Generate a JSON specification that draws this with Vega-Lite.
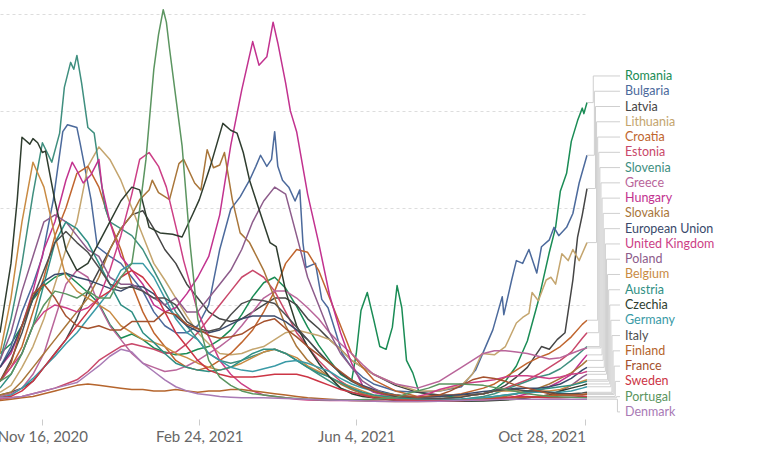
{
  "$schema": "https://vega.github.io/schema/vega-lite/v6.json",
  "width": 587,
  "height": 402,
  "autosize": {"type": "none"},
  "padding": {"left": 0, "top": 0, "right": 180, "bottom": 48},
  "background": "white",
  "config": {"view": {"stroke": null}, "font": "Lato", "text": {"font": "Lato"}},
  "datasets": {
    "names": [
      {"c": "RO", "name": "Romania", "rank": 0},
      {"c": "BG", "name": "Bulgaria", "rank": 1},
      {"c": "LV", "name": "Latvia", "rank": 2},
      {"c": "LT", "name": "Lithuania", "rank": 3},
      {"c": "HR", "name": "Croatia", "rank": 4},
      {"c": "EE", "name": "Estonia", "rank": 5},
      {"c": "SI", "name": "Slovenia", "rank": 6},
      {"c": "GR", "name": "Greece", "rank": 7},
      {"c": "HU", "name": "Hungary", "rank": 8},
      {"c": "SK", "name": "Slovakia", "rank": 9},
      {"c": "EU", "name": "European Union", "rank": 10},
      {"c": "GB", "name": "United Kingdom", "rank": 11},
      {"c": "PL", "name": "Poland", "rank": 12},
      {"c": "BE", "name": "Belgium", "rank": 13},
      {"c": "AT", "name": "Austria", "rank": 14},
      {"c": "CZ", "name": "Czechia", "rank": 15},
      {"c": "DE", "name": "Germany", "rank": 16},
      {"c": "IT", "name": "Italy", "rank": 17},
      {"c": "FI", "name": "Finland", "rank": 18},
      {"c": "FR", "name": "France", "rank": 19},
      {"c": "SE", "name": "Sweden", "rank": 20},
      {"c": "PT", "name": "Portugal", "rank": 21},
      {"c": "DK", "name": "Denmark", "rank": 22}
    ],
    "series": [
      {"c":"RO","t":"2020-10-20","v":3.5},{"c":"RO","t":"2020-10-27","v":4.2},{"c":"RO","t":"2020-11-03","v":5.5},{"c":"RO","t":"2020-11-10","v":7.4},{"c":"RO","t":"2020-11-17","v":8.4},{"c":"RO","t":"2020-11-24","v":9.0},{"c":"RO","t":"2020-12-01","v":9.3},{"c":"RO","t":"2020-12-08","v":8.6},{"c":"RO","t":"2020-12-15","v":7.9},{"c":"RO","t":"2020-12-22","v":7.1},{"c":"RO","t":"2020-12-29","v":5.6},{"c":"RO","t":"2021-01-05","v":4.6},{"c":"RO","t":"2021-01-12","v":4.9},{"c":"RO","t":"2021-01-19","v":4.5},{"c":"RO","t":"2021-01-26","v":3.9},{"c":"RO","t":"2021-02-02","v":3.6},{"c":"RO","t":"2021-02-09","v":3.4},{"c":"RO","t":"2021-02-16","v":3.5},{"c":"RO","t":"2021-02-23","v":3.8},{"c":"RO","t":"2021-03-02","v":4.0},{"c":"RO","t":"2021-03-09","v":4.5},{"c":"RO","t":"2021-03-16","v":5.2},{"c":"RO","t":"2021-03-23","v":6.3},{"c":"RO","t":"2021-03-30","v":7.6},{"c":"RO","t":"2021-04-06","v":8.6},{"c":"RO","t":"2021-04-13","v":9.0},{"c":"RO","t":"2021-04-20","v":8.2},{"c":"RO","t":"2021-04-27","v":6.9},{"c":"RO","t":"2021-05-04","v":5.4},{"c":"RO","t":"2021-05-11","v":4.1},{"c":"RO","t":"2021-05-18","v":3.0},{"c":"RO","t":"2021-05-25","v":2.0},{"c":"RO","t":"2021-06-01","v":1.5},{"c":"RO","t":"2021-06-04","v":3.5},{"c":"RO","t":"2021-06-07","v":6.6},{"c":"RO","t":"2021-06-11","v":7.9},{"c":"RO","t":"2021-06-15","v":6.0},{"c":"RO","t":"2021-06-19","v":4.0},{"c":"RO","t":"2021-06-23","v":3.8},{"c":"RO","t":"2021-06-27","v":5.4},{"c":"RO","t":"2021-06-30","v":8.4},{"c":"RO","t":"2021-07-03","v":6.8},{"c":"RO","t":"2021-07-06","v":3.0},{"c":"RO","t":"2021-07-10","v":2.1},{"c":"RO","t":"2021-07-14","v":0.7},{"c":"RO","t":"2021-07-27","v":0.4},{"c":"RO","t":"2021-08-10","v":0.4},{"c":"RO","t":"2021-08-24","v":0.6},{"c":"RO","t":"2021-08-31","v":0.9},{"c":"RO","t":"2021-09-07","v":1.5},{"c":"RO","t":"2021-09-14","v":2.6},{"c":"RO","t":"2021-09-21","v":4.4},{"c":"RO","t":"2021-09-28","v":7.3},{"c":"RO","t":"2021-10-05","v":10.8},{"c":"RO","t":"2021-10-09","v":12.6},{"c":"RO","t":"2021-10-12","v":15.2},{"c":"RO","t":"2021-10-16","v":16.5},{"c":"RO","t":"2021-10-19","v":18.8},{"c":"RO","t":"2021-10-23","v":20.3},{"c":"RO","t":"2021-10-26","v":21.2},{"c":"RO","t":"2021-10-27","v":20.8},{"c":"RO","t":"2021-10-29","v":21.6},
      {"c":"BG","t":"2020-10-20","v":2.5},{"c":"BG","t":"2020-10-27","v":4.0},{"c":"BG","t":"2020-11-03","v":6.5},{"c":"BG","t":"2020-11-10","v":8.5},{"c":"BG","t":"2020-11-16","v":10.5},{"c":"BG","t":"2020-11-23","v":14.6},{"c":"BG","t":"2020-11-29","v":19.5},{"c":"BG","t":"2020-12-02","v":20.0},{"c":"BG","t":"2020-12-08","v":19.8},{"c":"BG","t":"2020-12-10","v":18.7},{"c":"BG","t":"2020-12-17","v":14.6},{"c":"BG","t":"2020-12-21","v":11.2},{"c":"BG","t":"2020-12-29","v":10.5},{"c":"BG","t":"2021-01-05","v":10.0},{"c":"BG","t":"2021-01-12","v":9.0},{"c":"BG","t":"2021-01-19","v":8.0},{"c":"BG","t":"2021-01-26","v":6.5},{"c":"BG","t":"2021-02-02","v":5.5},{"c":"BG","t":"2021-02-09","v":5.0},{"c":"BG","t":"2021-02-16","v":5.0},{"c":"BG","t":"2021-02-23","v":5.5},{"c":"BG","t":"2021-03-02","v":7.0},{"c":"BG","t":"2021-03-09","v":11.0},{"c":"BG","t":"2021-03-16","v":13.9},{"c":"BG","t":"2021-03-22","v":14.8},{"c":"BG","t":"2021-03-28","v":16.0},{"c":"BG","t":"2021-04-01","v":17.0},{"c":"BG","t":"2021-04-04","v":17.8},{"c":"BG","t":"2021-04-08","v":17.0},{"c":"BG","t":"2021-04-11","v":17.5},{"c":"BG","t":"2021-04-13","v":19.5},{"c":"BG","t":"2021-04-15","v":17.0},{"c":"BG","t":"2021-04-18","v":16.0},{"c":"BG","t":"2021-04-22","v":15.5},{"c":"BG","t":"2021-04-26","v":14.5},{"c":"BG","t":"2021-04-29","v":15.3},{"c":"BG","t":"2021-05-01","v":11.5},{"c":"BG","t":"2021-05-03","v":9.7},{"c":"BG","t":"2021-05-09","v":10.0},{"c":"BG","t":"2021-05-13","v":7.4},{"c":"BG","t":"2021-05-17","v":6.8},{"c":"BG","t":"2021-05-22","v":5.0},{"c":"BG","t":"2021-05-26","v":3.5},{"c":"BG","t":"2021-06-01","v":2.5},{"c":"BG","t":"2021-06-08","v":1.8},{"c":"BG","t":"2021-06-15","v":1.3},{"c":"BG","t":"2021-06-29","v":0.8},{"c":"BG","t":"2021-07-13","v":0.7},{"c":"BG","t":"2021-07-27","v":0.8},{"c":"BG","t":"2021-08-10","v":1.1},{"c":"BG","t":"2021-08-19","v":2.3},{"c":"BG","t":"2021-08-30","v":5.2},{"c":"BG","t":"2021-09-05","v":7.6},{"c":"BG","t":"2021-09-06","v":6.3},{"c":"BG","t":"2021-09-11","v":8.8},{"c":"BG","t":"2021-09-14","v":10.2},{"c":"BG","t":"2021-09-18","v":10.0},{"c":"BG","t":"2021-09-22","v":11.0},{"c":"BG","t":"2021-09-27","v":9.3},{"c":"BG","t":"2021-09-30","v":11.2},{"c":"BG","t":"2021-10-05","v":11.7},{"c":"BG","t":"2021-10-08","v":12.6},{"c":"BG","t":"2021-10-11","v":12.0},{"c":"BG","t":"2021-10-16","v":12.6},{"c":"BG","t":"2021-10-20","v":13.6},{"c":"BG","t":"2021-10-24","v":15.8},{"c":"BG","t":"2021-10-29","v":17.8},
      {"c":"LV","t":"2020-10-20","v":0.5},{"c":"LV","t":"2020-10-27","v":0.7},{"c":"LV","t":"2020-11-03","v":1.0},{"c":"LV","t":"2020-11-10","v":1.5},{"c":"LV","t":"2020-11-17","v":2.5},{"c":"LV","t":"2020-11-24","v":3.5},{"c":"LV","t":"2020-12-01","v":4.5},{"c":"LV","t":"2020-12-08","v":6.0},{"c":"LV","t":"2020-12-15","v":8.0},{"c":"LV","t":"2020-12-22","v":9.5},{"c":"LV","t":"2020-12-29","v":11.0},{"c":"LV","t":"2021-01-05","v":12.5},{"c":"LV","t":"2021-01-12","v":13.5},{"c":"LV","t":"2021-01-19","v":13.8},{"c":"LV","t":"2021-01-26","v":12.5},{"c":"LV","t":"2021-02-02","v":11.0},{"c":"LV","t":"2021-02-09","v":10.0},{"c":"LV","t":"2021-02-16","v":8.5},{"c":"LV","t":"2021-02-23","v":7.5},{"c":"LV","t":"2021-03-02","v":6.5},{"c":"LV","t":"2021-03-09","v":6.0},{"c":"LV","t":"2021-03-16","v":5.8},{"c":"LV","t":"2021-03-23","v":6.0},{"c":"LV","t":"2021-03-30","v":6.5},{"c":"LV","t":"2021-04-06","v":7.0},{"c":"LV","t":"2021-04-13","v":7.5},{"c":"LV","t":"2021-04-20","v":7.5},{"c":"LV","t":"2021-04-27","v":7.0},{"c":"LV","t":"2021-05-04","v":6.0},{"c":"LV","t":"2021-05-11","v":5.3},{"c":"LV","t":"2021-05-18","v":4.5},{"c":"LV","t":"2021-05-25","v":3.8},{"c":"LV","t":"2021-06-01","v":3.0},{"c":"LV","t":"2021-06-08","v":2.5},{"c":"LV","t":"2021-06-15","v":2.0},{"c":"LV","t":"2021-06-29","v":1.2},{"c":"LV","t":"2021-07-13","v":0.7},{"c":"LV","t":"2021-07-27","v":0.5},{"c":"LV","t":"2021-08-10","v":0.5},{"c":"LV","t":"2021-08-24","v":0.6},{"c":"LV","t":"2021-08-31","v":0.8},{"c":"LV","t":"2021-09-07","v":1.2},{"c":"LV","t":"2021-09-14","v":1.8},{"c":"LV","t":"2021-09-21","v":2.5},{"c":"LV","t":"2021-09-30","v":4.0},{"c":"LV","t":"2021-10-05","v":3.8},{"c":"LV","t":"2021-10-10","v":4.5},{"c":"LV","t":"2021-10-15","v":5.0},{"c":"LV","t":"2021-10-20","v":8.8},{"c":"LV","t":"2021-10-23","v":11.9},{"c":"LV","t":"2021-10-26","v":13.5},{"c":"LV","t":"2021-10-29","v":15.4},
      {"c":"LT","t":"2020-10-20","v":0.7},{"c":"LT","t":"2020-10-27","v":1.2},{"c":"LT","t":"2020-11-03","v":2.5},{"c":"LT","t":"2020-11-10","v":4.0},{"c":"LT","t":"2020-11-17","v":6.0},{"c":"LT","t":"2020-11-24","v":8.5},{"c":"LT","t":"2020-12-01","v":11.0},{"c":"LT","t":"2020-12-08","v":13.0},{"c":"LT","t":"2020-12-15","v":17.0},{"c":"LT","t":"2020-12-22","v":18.4},{"c":"LT","t":"2020-12-29","v":17.5},{"c":"LT","t":"2021-01-05","v":16.0},{"c":"LT","t":"2021-01-12","v":14.0},{"c":"LT","t":"2021-01-19","v":12.0},{"c":"LT","t":"2021-01-26","v":10.0},{"c":"LT","t":"2021-02-02","v":8.8},{"c":"LT","t":"2021-02-09","v":7.5},{"c":"LT","t":"2021-02-16","v":6.2},{"c":"LT","t":"2021-02-23","v":5.0},{"c":"LT","t":"2021-03-02","v":4.2},{"c":"LT","t":"2021-03-09","v":3.5},{"c":"LT","t":"2021-03-16","v":3.4},{"c":"LT","t":"2021-03-23","v":3.5},{"c":"LT","t":"2021-03-30","v":3.8},{"c":"LT","t":"2021-04-06","v":4.0},{"c":"LT","t":"2021-04-13","v":4.5},{"c":"LT","t":"2021-04-20","v":5.0},{"c":"LT","t":"2021-04-27","v":5.2},{"c":"LT","t":"2021-05-04","v":5.0},{"c":"LT","t":"2021-05-11","v":4.8},{"c":"LT","t":"2021-05-18","v":4.5},{"c":"LT","t":"2021-05-25","v":3.8},{"c":"LT","t":"2021-06-01","v":3.0},{"c":"LT","t":"2021-06-08","v":2.5},{"c":"LT","t":"2021-06-15","v":2.0},{"c":"LT","t":"2021-06-29","v":1.3},{"c":"LT","t":"2021-07-13","v":0.8},{"c":"LT","t":"2021-07-27","v":0.8},{"c":"LT","t":"2021-08-10","v":1.2},{"c":"LT","t":"2021-08-17","v":2.0},{"c":"LT","t":"2021-08-23","v":3.5},{"c":"LT","t":"2021-08-31","v":3.4},{"c":"LT","t":"2021-09-07","v":4.0},{"c":"LT","t":"2021-09-14","v":5.7},{"c":"LT","t":"2021-09-18","v":6.1},{"c":"LT","t":"2021-09-22","v":6.4},{"c":"LT","t":"2021-09-24","v":7.9},{"c":"LT","t":"2021-09-28","v":7.3},{"c":"LT","t":"2021-10-03","v":8.8},{"c":"LT","t":"2021-10-06","v":9.0},{"c":"LT","t":"2021-10-09","v":8.5},{"c":"LT","t":"2021-10-13","v":10.7},{"c":"LT","t":"2021-10-17","v":10.2},{"c":"LT","t":"2021-10-20","v":11.0},{"c":"LT","t":"2021-10-24","v":10.2},{"c":"LT","t":"2021-10-29","v":11.5},
      {"c":"HR","t":"2020-10-20","v":1.5},{"c":"HR","t":"2020-10-27","v":2.5},{"c":"HR","t":"2020-11-03","v":4.0},{"c":"HR","t":"2020-11-10","v":6.5},{"c":"HR","t":"2020-11-17","v":9.0},{"c":"HR","t":"2020-11-24","v":12.0},{"c":"HR","t":"2020-12-01","v":14.0},{"c":"HR","t":"2020-12-08","v":16.5},{"c":"HR","t":"2020-12-15","v":17.0},{"c":"HR","t":"2020-12-22","v":15.5},{"c":"HR","t":"2020-12-29","v":13.0},{"c":"HR","t":"2021-01-05","v":11.0},{"c":"HR","t":"2021-01-12","v":8.5},{"c":"HR","t":"2021-01-19","v":6.5},{"c":"HR","t":"2021-01-26","v":5.0},{"c":"HR","t":"2021-02-02","v":4.0},{"c":"HR","t":"2021-02-09","v":3.0},{"c":"HR","t":"2021-02-16","v":2.5},{"c":"HR","t":"2021-02-23","v":2.3},{"c":"HR","t":"2021-03-02","v":2.5},{"c":"HR","t":"2021-03-09","v":3.0},{"c":"HR","t":"2021-03-16","v":3.5},{"c":"HR","t":"2021-03-23","v":4.3},{"c":"HR","t":"2021-03-30","v":5.2},{"c":"HR","t":"2021-04-06","v":6.5},{"c":"HR","t":"2021-04-13","v":8.0},{"c":"HR","t":"2021-04-20","v":10.0},{"c":"HR","t":"2021-04-27","v":11.0},{"c":"HR","t":"2021-05-04","v":10.8},{"c":"HR","t":"2021-05-11","v":9.5},{"c":"HR","t":"2021-05-18","v":7.5},{"c":"HR","t":"2021-05-25","v":5.5},{"c":"HR","t":"2021-06-01","v":3.5},{"c":"HR","t":"2021-06-08","v":2.5},{"c":"HR","t":"2021-06-15","v":1.6},{"c":"HR","t":"2021-06-29","v":0.8},{"c":"HR","t":"2021-07-13","v":0.4},{"c":"HR","t":"2021-07-27","v":0.4},{"c":"HR","t":"2021-08-10","v":0.6},{"c":"HR","t":"2021-08-24","v":1.0},{"c":"HR","t":"2021-08-31","v":1.3},{"c":"HR","t":"2021-09-07","v":1.8},{"c":"HR","t":"2021-09-14","v":2.3},{"c":"HR","t":"2021-09-21","v":2.8},{"c":"HR","t":"2021-09-28","v":3.2},{"c":"HR","t":"2021-10-05","v":3.5},{"c":"HR","t":"2021-10-12","v":4.0},{"c":"HR","t":"2021-10-19","v":4.7},{"c":"HR","t":"2021-10-26","v":5.6},{"c":"HR","t":"2021-10-29","v":5.9},
      {"c":"EE","t":"2020-10-20","v":0.2},{"c":"EE","t":"2020-10-27","v":0.3},{"c":"EE","t":"2020-11-03","v":0.4},{"c":"EE","t":"2020-11-10","v":0.6},{"c":"EE","t":"2020-11-17","v":0.8},{"c":"EE","t":"2020-11-24","v":1.0},{"c":"EE","t":"2020-12-01","v":1.3},{"c":"EE","t":"2020-12-08","v":1.6},{"c":"EE","t":"2020-12-15","v":2.2},{"c":"EE","t":"2020-12-22","v":3.0},{"c":"EE","t":"2020-12-29","v":3.5},{"c":"EE","t":"2021-01-05","v":4.0},{"c":"EE","t":"2021-01-12","v":4.2},{"c":"EE","t":"2021-01-19","v":4.0},{"c":"EE","t":"2021-01-26","v":3.8},{"c":"EE","t":"2021-02-02","v":3.5},{"c":"EE","t":"2021-02-09","v":3.6},{"c":"EE","t":"2021-02-16","v":4.2},{"c":"EE","t":"2021-02-23","v":5.0},{"c":"EE","t":"2021-03-02","v":6.0},{"c":"EE","t":"2021-03-09","v":7.0},{"c":"EE","t":"2021-03-16","v":8.0},{"c":"EE","t":"2021-03-23","v":9.0},{"c":"EE","t":"2021-03-30","v":9.5},{"c":"EE","t":"2021-04-06","v":9.0},{"c":"EE","t":"2021-04-13","v":8.0},{"c":"EE","t":"2021-04-20","v":6.5},{"c":"EE","t":"2021-04-27","v":5.0},{"c":"EE","t":"2021-05-04","v":4.0},{"c":"EE","t":"2021-05-11","v":3.0},{"c":"EE","t":"2021-05-18","v":2.2},{"c":"EE","t":"2021-05-25","v":1.5},{"c":"EE","t":"2021-06-01","v":1.0},{"c":"EE","t":"2021-06-08","v":0.6},{"c":"EE","t":"2021-06-15","v":0.4},{"c":"EE","t":"2021-06-29","v":0.2},{"c":"EE","t":"2021-07-13","v":0.1},{"c":"EE","t":"2021-07-27","v":0.2},{"c":"EE","t":"2021-08-10","v":0.4},{"c":"EE","t":"2021-08-24","v":0.6},{"c":"EE","t":"2021-08-31","v":0.8},{"c":"EE","t":"2021-09-07","v":1.0},{"c":"EE","t":"2021-09-14","v":1.3},{"c":"EE","t":"2021-09-21","v":1.6},{"c":"EE","t":"2021-09-28","v":2.0},{"c":"EE","t":"2021-10-05","v":2.5},{"c":"EE","t":"2021-10-12","v":3.0},{"c":"EE","t":"2021-10-19","v":3.6},{"c":"EE","t":"2021-10-26","v":4.6},{"c":"EE","t":"2021-10-29","v":5.0},
      {"c":"SI","t":"2020-10-20","v":3.0},{"c":"SI","t":"2020-10-27","v":6.0},{"c":"SI","t":"2020-11-03","v":10.0},{"c":"SI","t":"2020-11-10","v":15.0},{"c":"SI","t":"2020-11-16","v":18.7},{"c":"SI","t":"2020-11-22","v":17.3},{"c":"SI","t":"2020-11-27","v":19.4},{"c":"SI","t":"2020-11-30","v":22.7},{"c":"SI","t":"2020-12-04","v":24.5},{"c":"SI","t":"2020-12-06","v":24.0},{"c":"SI","t":"2020-12-08","v":25.0},{"c":"SI","t":"2020-12-11","v":23.0},{"c":"SI","t":"2020-12-15","v":19.8},{"c":"SI","t":"2020-12-19","v":19.4},{"c":"SI","t":"2020-12-22","v":17.0},{"c":"SI","t":"2020-12-26","v":14.0},{"c":"SI","t":"2020-12-29","v":13.0},{"c":"SI","t":"2021-01-05","v":12.5},{"c":"SI","t":"2021-01-12","v":12.0},{"c":"SI","t":"2021-01-19","v":11.0},{"c":"SI","t":"2021-01-26","v":9.5},{"c":"SI","t":"2021-02-02","v":8.0},{"c":"SI","t":"2021-02-09","v":6.5},{"c":"SI","t":"2021-02-16","v":5.5},{"c":"SI","t":"2021-02-23","v":4.5},{"c":"SI","t":"2021-03-02","v":3.5},{"c":"SI","t":"2021-03-09","v":3.0},{"c":"SI","t":"2021-03-16","v":2.8},{"c":"SI","t":"2021-03-23","v":3.0},{"c":"SI","t":"2021-03-30","v":3.3},{"c":"SI","t":"2021-04-06","v":3.6},{"c":"SI","t":"2021-04-13","v":3.8},{"c":"SI","t":"2021-04-20","v":3.5},{"c":"SI","t":"2021-04-27","v":3.0},{"c":"SI","t":"2021-05-04","v":2.5},{"c":"SI","t":"2021-05-11","v":2.0},{"c":"SI","t":"2021-05-18","v":1.5},{"c":"SI","t":"2021-05-25","v":1.0},{"c":"SI","t":"2021-06-01","v":0.7},{"c":"SI","t":"2021-06-08","v":0.5},{"c":"SI","t":"2021-06-15","v":0.3},{"c":"SI","t":"2021-06-29","v":0.2},{"c":"SI","t":"2021-07-13","v":0.1},{"c":"SI","t":"2021-07-27","v":0.1},{"c":"SI","t":"2021-08-10","v":0.2},{"c":"SI","t":"2021-08-24","v":0.4},{"c":"SI","t":"2021-08-31","v":0.6},{"c":"SI","t":"2021-09-07","v":0.9},{"c":"SI","t":"2021-09-14","v":1.2},{"c":"SI","t":"2021-09-21","v":1.5},{"c":"SI","t":"2021-09-28","v":1.8},{"c":"SI","t":"2021-10-05","v":2.0},{"c":"SI","t":"2021-10-12","v":2.4},{"c":"SI","t":"2021-10-19","v":3.0},{"c":"SI","t":"2021-10-26","v":3.7},{"c":"SI","t":"2021-10-29","v":4.0},
      {"c":"GR","t":"2020-10-20","v":0.4},{"c":"GR","t":"2020-10-27","v":0.6},{"c":"GR","t":"2020-11-03","v":1.0},{"c":"GR","t":"2020-11-10","v":2.0},{"c":"GR","t":"2020-11-17","v":3.5},{"c":"GR","t":"2020-11-24","v":6.0},{"c":"GR","t":"2020-12-01","v":8.5},{"c":"GR","t":"2020-12-08","v":9.5},{"c":"GR","t":"2020-12-15","v":9.0},{"c":"GR","t":"2020-12-22","v":7.0},{"c":"GR","t":"2020-12-29","v":5.5},{"c":"GR","t":"2021-01-05","v":4.5},{"c":"GR","t":"2021-01-12","v":3.5},{"c":"GR","t":"2021-01-19","v":2.8},{"c":"GR","t":"2021-01-26","v":2.5},{"c":"GR","t":"2021-02-02","v":2.2},{"c":"GR","t":"2021-02-09","v":2.3},{"c":"GR","t":"2021-02-16","v":2.6},{"c":"GR","t":"2021-02-23","v":3.0},{"c":"GR","t":"2021-03-02","v":3.5},{"c":"GR","t":"2021-03-09","v":4.0},{"c":"GR","t":"2021-03-16","v":4.6},{"c":"GR","t":"2021-03-23","v":5.5},{"c":"GR","t":"2021-03-30","v":6.5},{"c":"GR","t":"2021-04-06","v":7.5},{"c":"GR","t":"2021-04-13","v":8.0},{"c":"GR","t":"2021-04-20","v":8.0},{"c":"GR","t":"2021-04-27","v":7.5},{"c":"GR","t":"2021-05-04","v":6.8},{"c":"GR","t":"2021-05-11","v":6.0},{"c":"GR","t":"2021-05-18","v":5.0},{"c":"GR","t":"2021-05-25","v":4.2},{"c":"GR","t":"2021-06-01","v":3.5},{"c":"GR","t":"2021-06-08","v":2.7},{"c":"GR","t":"2021-06-15","v":2.0},{"c":"GR","t":"2021-06-29","v":1.3},{"c":"GR","t":"2021-07-13","v":1.0},{"c":"GR","t":"2021-07-27","v":1.5},{"c":"GR","t":"2021-08-10","v":2.5},{"c":"GR","t":"2021-08-17","v":3.0},{"c":"GR","t":"2021-08-24","v":3.5},{"c":"GR","t":"2021-08-31","v":3.7},{"c":"GR","t":"2021-09-07","v":3.7},{"c":"GR","t":"2021-09-14","v":3.6},{"c":"GR","t":"2021-09-21","v":3.5},{"c":"GR","t":"2021-09-28","v":3.3},{"c":"GR","t":"2021-10-05","v":3.1},{"c":"GR","t":"2021-10-12","v":3.2},{"c":"GR","t":"2021-10-19","v":3.5},{"c":"GR","t":"2021-10-26","v":3.8},{"c":"GR","t":"2021-10-29","v":3.9},
      {"c":"HU","t":"2020-10-20","v":2.5},{"c":"HU","t":"2020-10-27","v":3.5},{"c":"HU","t":"2020-11-03","v":5.5},{"c":"HU","t":"2020-11-10","v":8.0},{"c":"HU","t":"2020-11-17","v":11.0},{"c":"HU","t":"2020-11-24","v":13.0},{"c":"HU","t":"2020-12-01","v":16.0},{"c":"HU","t":"2020-12-05","v":17.3},{"c":"HU","t":"2020-12-08","v":16.7},{"c":"HU","t":"2020-12-12","v":15.8},{"c":"HU","t":"2020-12-17","v":16.4},{"c":"HU","t":"2020-12-22","v":17.5},{"c":"HU","t":"2020-12-24","v":15.5},{"c":"HU","t":"2020-12-29","v":13.0},{"c":"HU","t":"2021-01-05","v":10.5},{"c":"HU","t":"2021-01-12","v":9.5},{"c":"HU","t":"2021-01-19","v":8.5},{"c":"HU","t":"2021-01-26","v":7.0},{"c":"HU","t":"2021-02-02","v":6.5},{"c":"HU","t":"2021-02-09","v":6.8},{"c":"HU","t":"2021-02-16","v":7.8},{"c":"HU","t":"2021-02-23","v":9.0},{"c":"HU","t":"2021-03-02","v":10.5},{"c":"HU","t":"2021-03-09","v":13.5},{"c":"HU","t":"2021-03-16","v":18.5},{"c":"HU","t":"2021-03-23","v":22.5},{"c":"HU","t":"2021-03-27","v":24.5},{"c":"HU","t":"2021-03-30","v":26.0},{"c":"HU","t":"2021-04-03","v":24.3},{"c":"HU","t":"2021-04-08","v":24.9},{"c":"HU","t":"2021-04-12","v":27.4},{"c":"HU","t":"2021-04-15","v":25.9},{"c":"HU","t":"2021-04-20","v":23.0},{"c":"HU","t":"2021-04-23","v":21.0},{"c":"HU","t":"2021-04-27","v":19.5},{"c":"HU","t":"2021-05-04","v":15.0},{"c":"HU","t":"2021-05-11","v":11.5},{"c":"HU","t":"2021-05-18","v":7.7},{"c":"HU","t":"2021-05-25","v":5.0},{"c":"HU","t":"2021-06-01","v":2.8},{"c":"HU","t":"2021-06-08","v":1.2},{"c":"HU","t":"2021-06-15","v":0.7},{"c":"HU","t":"2021-06-29","v":0.3},{"c":"HU","t":"2021-07-13","v":0.2},{"c":"HU","t":"2021-07-27","v":0.1},{"c":"HU","t":"2021-08-10","v":0.1},{"c":"HU","t":"2021-08-24","v":0.2},{"c":"HU","t":"2021-08-31","v":0.3},{"c":"HU","t":"2021-09-07","v":0.3},{"c":"HU","t":"2021-09-14","v":0.4},{"c":"HU","t":"2021-09-21","v":0.6},{"c":"HU","t":"2021-09-28","v":0.8},{"c":"HU","t":"2021-10-05","v":1.1},{"c":"HU","t":"2021-10-12","v":1.5},{"c":"HU","t":"2021-10-19","v":2.0},{"c":"HU","t":"2021-10-26","v":3.0},{"c":"HU","t":"2021-10-29","v":3.4},
      {"c":"SK","t":"2020-10-20","v":0.5},{"c":"SK","t":"2020-10-27","v":0.7},{"c":"SK","t":"2020-11-03","v":1.5},{"c":"SK","t":"2020-11-10","v":2.5},{"c":"SK","t":"2020-11-17","v":3.5},{"c":"SK","t":"2020-11-24","v":4.5},{"c":"SK","t":"2020-12-01","v":5.5},{"c":"SK","t":"2020-12-08","v":6.5},{"c":"SK","t":"2020-12-15","v":7.5},{"c":"SK","t":"2020-12-22","v":9.0},{"c":"SK","t":"2020-12-29","v":11.0},{"c":"SK","t":"2021-01-05","v":12.5},{"c":"SK","t":"2021-01-12","v":13.5},{"c":"SK","t":"2021-01-17","v":14.6},{"c":"SK","t":"2021-01-23","v":15.3},{"c":"SK","t":"2021-01-25","v":16.0},{"c":"SK","t":"2021-01-29","v":15.1},{"c":"SK","t":"2021-02-05","v":14.6},{"c":"SK","t":"2021-02-11","v":17.2},{"c":"SK","t":"2021-02-14","v":17.5},{"c":"SK","t":"2021-02-21","v":15.8},{"c":"SK","t":"2021-02-25","v":15.3},{"c":"SK","t":"2021-03-01","v":18.2},{"c":"SK","t":"2021-03-05","v":16.9},{"c":"SK","t":"2021-03-09","v":17.1},{"c":"SK","t":"2021-03-12","v":18.0},{"c":"SK","t":"2021-03-17","v":14.6},{"c":"SK","t":"2021-03-22","v":12.2},{"c":"SK","t":"2021-03-28","v":11.5},{"c":"SK","t":"2021-04-06","v":9.5},{"c":"SK","t":"2021-04-13","v":7.5},{"c":"SK","t":"2021-04-20","v":5.5},{"c":"SK","t":"2021-04-27","v":4.0},{"c":"SK","t":"2021-05-04","v":3.0},{"c":"SK","t":"2021-05-11","v":2.4},{"c":"SK","t":"2021-05-18","v":1.8},{"c":"SK","t":"2021-05-25","v":1.3},{"c":"SK","t":"2021-06-01","v":0.9},{"c":"SK","t":"2021-06-08","v":0.6},{"c":"SK","t":"2021-06-15","v":0.4},{"c":"SK","t":"2021-06-29","v":0.2},{"c":"SK","t":"2021-07-13","v":0.1},{"c":"SK","t":"2021-07-27","v":0.1},{"c":"SK","t":"2021-08-10","v":0.1},{"c":"SK","t":"2021-08-24","v":0.2},{"c":"SK","t":"2021-08-31","v":0.3},{"c":"SK","t":"2021-09-07","v":0.4},{"c":"SK","t":"2021-09-14","v":0.6},{"c":"SK","t":"2021-09-21","v":0.8},{"c":"SK","t":"2021-09-28","v":1.0},{"c":"SK","t":"2021-10-05","v":1.3},{"c":"SK","t":"2021-10-12","v":1.7},{"c":"SK","t":"2021-10-19","v":2.1},{"c":"SK","t":"2021-10-26","v":2.7},{"c":"SK","t":"2021-10-29","v":3.0},
      {"c":"EU","t":"2020-10-20","v":2.5},{"c":"EU","t":"2020-10-27","v":3.7},{"c":"EU","t":"2020-11-03","v":5.5},{"c":"EU","t":"2020-11-10","v":7.5},{"c":"EU","t":"2020-11-17","v":8.7},{"c":"EU","t":"2020-11-24","v":9.2},{"c":"EU","t":"2020-12-01","v":9.3},{"c":"EU","t":"2020-12-08","v":9.0},{"c":"EU","t":"2020-12-15","v":8.8},{"c":"EU","t":"2020-12-22","v":8.5},{"c":"EU","t":"2020-12-29","v":8.2},{"c":"EU","t":"2021-01-05","v":8.0},{"c":"EU","t":"2021-01-12","v":8.4},{"c":"EU","t":"2021-01-19","v":8.3},{"c":"EU","t":"2021-01-26","v":7.8},{"c":"EU","t":"2021-02-02","v":7.0},{"c":"EU","t":"2021-02-09","v":6.2},{"c":"EU","t":"2021-02-16","v":5.5},{"c":"EU","t":"2021-02-23","v":5.1},{"c":"EU","t":"2021-03-02","v":5.0},{"c":"EU","t":"2021-03-09","v":5.2},{"c":"EU","t":"2021-03-16","v":5.6},{"c":"EU","t":"2021-03-23","v":6.0},{"c":"EU","t":"2021-03-30","v":6.2},{"c":"EU","t":"2021-04-06","v":6.2},{"c":"EU","t":"2021-04-13","v":6.2},{"c":"EU","t":"2021-04-20","v":5.8},{"c":"EU","t":"2021-04-27","v":5.2},{"c":"EU","t":"2021-05-04","v":4.5},{"c":"EU","t":"2021-05-11","v":3.6},{"c":"EU","t":"2021-05-18","v":2.8},{"c":"EU","t":"2021-05-25","v":2.1},{"c":"EU","t":"2021-06-01","v":1.6},{"c":"EU","t":"2021-06-08","v":1.2},{"c":"EU","t":"2021-06-15","v":0.9},{"c":"EU","t":"2021-06-22","v":0.7},{"c":"EU","t":"2021-06-29","v":0.5},{"c":"EU","t":"2021-07-13","v":0.35},{"c":"EU","t":"2021-07-27","v":0.4},{"c":"EU","t":"2021-08-10","v":0.55},{"c":"EU","t":"2021-08-24","v":0.75},{"c":"EU","t":"2021-09-07","v":0.9},{"c":"EU","t":"2021-09-14","v":1.0},{"c":"EU","t":"2021-09-21","v":1.0},{"c":"EU","t":"2021-09-28","v":1.0},{"c":"EU","t":"2021-10-05","v":1.1},{"c":"EU","t":"2021-10-12","v":1.3},{"c":"EU","t":"2021-10-19","v":1.7},{"c":"EU","t":"2021-10-26","v":2.3},{"c":"EU","t":"2021-10-29","v":2.5},
      {"c":"GB","t":"2020-10-20","v":1.5},{"c":"GB","t":"2020-10-27","v":2.5},{"c":"GB","t":"2020-11-03","v":3.5},{"c":"GB","t":"2020-11-10","v":5.5},{"c":"GB","t":"2020-11-17","v":6.5},{"c":"GB","t":"2020-11-24","v":7.0},{"c":"GB","t":"2020-12-01","v":6.8},{"c":"GB","t":"2020-12-08","v":6.5},{"c":"GB","t":"2020-12-15","v":6.8},{"c":"GB","t":"2020-12-22","v":7.5},{"c":"GB","t":"2020-12-29","v":9.5},{"c":"GB","t":"2021-01-05","v":12.0},{"c":"GB","t":"2021-01-12","v":15.0},{"c":"GB","t":"2021-01-17","v":17.5},{"c":"GB","t":"2021-01-23","v":18.0},{"c":"GB","t":"2021-01-29","v":17.0},{"c":"GB","t":"2021-02-03","v":15.5},{"c":"GB","t":"2021-02-10","v":12.2},{"c":"GB","t":"2021-02-14","v":10.2},{"c":"GB","t":"2021-02-23","v":6.5},{"c":"GB","t":"2021-03-02","v":4.7},{"c":"GB","t":"2021-03-09","v":3.0},{"c":"GB","t":"2021-03-16","v":2.0},{"c":"GB","t":"2021-03-23","v":1.3},{"c":"GB","t":"2021-03-30","v":0.8},{"c":"GB","t":"2021-04-06","v":0.5},{"c":"GB","t":"2021-04-13","v":0.4},{"c":"GB","t":"2021-04-20","v":0.3},{"c":"GB","t":"2021-04-27","v":0.2},{"c":"GB","t":"2021-05-04","v":0.15},{"c":"GB","t":"2021-05-18","v":0.1},{"c":"GB","t":"2021-06-01","v":0.1},{"c":"GB","t":"2021-06-15","v":0.15},{"c":"GB","t":"2021-06-29","v":0.2},{"c":"GB","t":"2021-07-13","v":0.4},{"c":"GB","t":"2021-07-20","v":0.6},{"c":"GB","t":"2021-07-27","v":0.9},{"c":"GB","t":"2021-08-03","v":1.1},{"c":"GB","t":"2021-08-10","v":1.3},{"c":"GB","t":"2021-08-17","v":1.4},{"c":"GB","t":"2021-08-24","v":1.5},{"c":"GB","t":"2021-08-31","v":1.6},{"c":"GB","t":"2021-09-07","v":1.8},{"c":"GB","t":"2021-09-14","v":1.9},{"c":"GB","t":"2021-09-21","v":1.9},{"c":"GB","t":"2021-09-28","v":1.8},{"c":"GB","t":"2021-10-05","v":1.7},{"c":"GB","t":"2021-10-12","v":1.8},{"c":"GB","t":"2021-10-19","v":2.0},{"c":"GB","t":"2021-10-26","v":2.1},{"c":"GB","t":"2021-10-29","v":2.2},
      {"c":"PL","t":"2020-10-20","v":3.0},{"c":"PL","t":"2020-10-27","v":5.0},{"c":"PL","t":"2020-11-03","v":8.0},{"c":"PL","t":"2020-11-10","v":10.5},{"c":"PL","t":"2020-11-17","v":13.0},{"c":"PL","t":"2020-11-24","v":13.5},{"c":"PL","t":"2020-12-01","v":13.0},{"c":"PL","t":"2020-12-08","v":12.0},{"c":"PL","t":"2020-12-15","v":11.0},{"c":"PL","t":"2020-12-22","v":10.5},{"c":"PL","t":"2020-12-29","v":9.0},{"c":"PL","t":"2021-01-05","v":8.5},{"c":"PL","t":"2021-01-12","v":8.5},{"c":"PL","t":"2021-01-19","v":8.0},{"c":"PL","t":"2021-01-26","v":7.5},{"c":"PL","t":"2021-02-02","v":7.0},{"c":"PL","t":"2021-02-09","v":7.5},{"c":"PL","t":"2021-02-16","v":6.5},{"c":"PL","t":"2021-02-23","v":6.5},{"c":"PL","t":"2021-03-02","v":7.5},{"c":"PL","t":"2021-03-09","v":8.5},{"c":"PL","t":"2021-03-16","v":9.5},{"c":"PL","t":"2021-03-23","v":11.0},{"c":"PL","t":"2021-03-30","v":13.0},{"c":"PL","t":"2021-04-06","v":14.5},{"c":"PL","t":"2021-04-13","v":15.5},{"c":"PL","t":"2021-04-20","v":15.0},{"c":"PL","t":"2021-04-27","v":12.0},{"c":"PL","t":"2021-05-04","v":9.0},{"c":"PL","t":"2021-05-11","v":7.0},{"c":"PL","t":"2021-05-18","v":5.0},{"c":"PL","t":"2021-05-25","v":3.5},{"c":"PL","t":"2021-06-01","v":2.5},{"c":"PL","t":"2021-06-08","v":1.5},{"c":"PL","t":"2021-06-15","v":1.0},{"c":"PL","t":"2021-06-22","v":0.6},{"c":"PL","t":"2021-06-29","v":0.4},{"c":"PL","t":"2021-07-13","v":0.25},{"c":"PL","t":"2021-07-27","v":0.15},{"c":"PL","t":"2021-08-10","v":0.12},{"c":"PL","t":"2021-08-24","v":0.15},{"c":"PL","t":"2021-09-07","v":0.2},{"c":"PL","t":"2021-09-14","v":0.2},{"c":"PL","t":"2021-09-21","v":0.3},{"c":"PL","t":"2021-09-28","v":0.4},{"c":"PL","t":"2021-10-05","v":0.5},{"c":"PL","t":"2021-10-12","v":0.8},{"c":"PL","t":"2021-10-19","v":1.2},{"c":"PL","t":"2021-10-26","v":1.8},{"c":"PL","t":"2021-10-29","v":2.0},
      {"c":"BE","t":"2020-10-20","v":3.5},{"c":"BE","t":"2020-10-27","v":7.5},{"c":"BE","t":"2020-11-03","v":13.0},{"c":"BE","t":"2020-11-10","v":17.3},{"c":"BE","t":"2020-11-17","v":15.5},{"c":"BE","t":"2020-11-24","v":12.0},{"c":"BE","t":"2020-12-01","v":9.0},{"c":"BE","t":"2020-12-08","v":8.0},{"c":"BE","t":"2020-12-15","v":7.5},{"c":"BE","t":"2020-12-22","v":7.0},{"c":"BE","t":"2020-12-29","v":6.5},{"c":"BE","t":"2021-01-05","v":5.5},{"c":"BE","t":"2021-01-12","v":5.0},{"c":"BE","t":"2021-01-19","v":4.5},{"c":"BE","t":"2021-01-26","v":4.3},{"c":"BE","t":"2021-02-02","v":4.0},{"c":"BE","t":"2021-02-09","v":3.5},{"c":"BE","t":"2021-02-16","v":3.2},{"c":"BE","t":"2021-02-23","v":2.8},{"c":"BE","t":"2021-03-02","v":2.5},{"c":"BE","t":"2021-03-09","v":2.3},{"c":"BE","t":"2021-03-16","v":2.5},{"c":"BE","t":"2021-03-23","v":2.8},{"c":"BE","t":"2021-03-30","v":3.2},{"c":"BE","t":"2021-04-06","v":3.6},{"c":"BE","t":"2021-04-13","v":3.8},{"c":"BE","t":"2021-04-20","v":3.5},{"c":"BE","t":"2021-04-27","v":3.2},{"c":"BE","t":"2021-05-04","v":2.6},{"c":"BE","t":"2021-05-11","v":2.2},{"c":"BE","t":"2021-05-18","v":1.8},{"c":"BE","t":"2021-05-25","v":1.4},{"c":"BE","t":"2021-06-01","v":1.1},{"c":"BE","t":"2021-06-08","v":0.8},{"c":"BE","t":"2021-06-15","v":0.5},{"c":"BE","t":"2021-06-29","v":0.35},{"c":"BE","t":"2021-07-13","v":0.25},{"c":"BE","t":"2021-07-27","v":0.2},{"c":"BE","t":"2021-08-10","v":0.4},{"c":"BE","t":"2021-08-24","v":0.6},{"c":"BE","t":"2021-08-31","v":0.8},{"c":"BE","t":"2021-09-14","v":0.8},{"c":"BE","t":"2021-09-28","v":0.8},{"c":"BE","t":"2021-10-05","v":0.8},{"c":"BE","t":"2021-10-12","v":0.9},{"c":"BE","t":"2021-10-19","v":1.2},{"c":"BE","t":"2021-10-26","v":1.5},{"c":"BE","t":"2021-10-29","v":1.6},
      {"c":"AT","t":"2020-10-20","v":1.0},{"c":"AT","t":"2020-10-27","v":2.0},{"c":"AT","t":"2020-11-03","v":3.5},{"c":"AT","t":"2020-11-10","v":5.5},{"c":"AT","t":"2020-11-17","v":8.5},{"c":"AT","t":"2020-11-24","v":11.5},{"c":"AT","t":"2020-12-01","v":13.0},{"c":"AT","t":"2020-12-08","v":12.5},{"c":"AT","t":"2020-12-15","v":11.5},{"c":"AT","t":"2020-12-22","v":10.0},{"c":"AT","t":"2020-12-29","v":8.5},{"c":"AT","t":"2021-01-05","v":7.0},{"c":"AT","t":"2021-01-12","v":6.5},{"c":"AT","t":"2021-01-19","v":5.0},{"c":"AT","t":"2021-01-26","v":4.3},{"c":"AT","t":"2021-02-02","v":3.5},{"c":"AT","t":"2021-02-09","v":2.8},{"c":"AT","t":"2021-02-16","v":2.5},{"c":"AT","t":"2021-02-23","v":2.3},{"c":"AT","t":"2021-03-02","v":2.2},{"c":"AT","t":"2021-03-09","v":2.3},{"c":"AT","t":"2021-03-16","v":2.5},{"c":"AT","t":"2021-03-23","v":3.0},{"c":"AT","t":"2021-03-30","v":3.5},{"c":"AT","t":"2021-04-06","v":3.8},{"c":"AT","t":"2021-04-13","v":3.8},{"c":"AT","t":"2021-04-20","v":3.5},{"c":"AT","t":"2021-04-27","v":3.0},{"c":"AT","t":"2021-05-04","v":2.5},{"c":"AT","t":"2021-05-11","v":2.1},{"c":"AT","t":"2021-05-18","v":1.8},{"c":"AT","t":"2021-05-25","v":1.4},{"c":"AT","t":"2021-06-01","v":1.0},{"c":"AT","t":"2021-06-08","v":0.7},{"c":"AT","t":"2021-06-15","v":0.5},{"c":"AT","t":"2021-06-29","v":0.3},{"c":"AT","t":"2021-07-13","v":0.2},{"c":"AT","t":"2021-07-27","v":0.15},{"c":"AT","t":"2021-08-10","v":0.2},{"c":"AT","t":"2021-08-24","v":0.3},{"c":"AT","t":"2021-08-31","v":0.4},{"c":"AT","t":"2021-09-07","v":0.5},{"c":"AT","t":"2021-09-14","v":0.6},{"c":"AT","t":"2021-09-21","v":0.8},{"c":"AT","t":"2021-09-28","v":0.9},{"c":"AT","t":"2021-10-05","v":1.0},{"c":"AT","t":"2021-10-12","v":1.1},{"c":"AT","t":"2021-10-19","v":1.2},{"c":"AT","t":"2021-10-26","v":1.4},{"c":"AT","t":"2021-10-29","v":1.5},
      {"c":"CZ","t":"2020-10-20","v":5.0},{"c":"CZ","t":"2020-10-27","v":10.0},{"c":"CZ","t":"2020-10-31","v":14.6},{"c":"CZ","t":"2020-11-03","v":19.1},{"c":"CZ","t":"2020-11-08","v":18.6},{"c":"CZ","t":"2020-11-10","v":19.0},{"c":"CZ","t":"2020-11-13","v":18.7},{"c":"CZ","t":"2020-11-16","v":18.0},{"c":"CZ","t":"2020-11-18","v":18.1},{"c":"CZ","t":"2020-11-24","v":14.5},{"c":"CZ","t":"2020-12-01","v":11.0},{"c":"CZ","t":"2020-12-08","v":9.5},{"c":"CZ","t":"2020-12-15","v":10.0},{"c":"CZ","t":"2020-12-22","v":11.5},{"c":"CZ","t":"2020-12-29","v":13.0},{"c":"CZ","t":"2021-01-05","v":14.5},{"c":"CZ","t":"2021-01-12","v":15.5},{"c":"CZ","t":"2021-01-17","v":15.3},{"c":"CZ","t":"2021-01-23","v":12.6},{"c":"CZ","t":"2021-01-30","v":12.2},{"c":"CZ","t":"2021-02-07","v":12.1},{"c":"CZ","t":"2021-02-13","v":11.9},{"c":"CZ","t":"2021-02-20","v":13.6},{"c":"CZ","t":"2021-02-24","v":14.6},{"c":"CZ","t":"2021-03-03","v":17.0},{"c":"CZ","t":"2021-03-11","v":20.1},{"c":"CZ","t":"2021-03-16","v":19.6},{"c":"CZ","t":"2021-03-20","v":19.4},{"c":"CZ","t":"2021-03-24","v":18.0},{"c":"CZ","t":"2021-03-28","v":16.0},{"c":"CZ","t":"2021-04-03","v":13.9},{"c":"CZ","t":"2021-04-10","v":11.5},{"c":"CZ","t":"2021-04-14","v":11.2},{"c":"CZ","t":"2021-04-20","v":8.0},{"c":"CZ","t":"2021-04-27","v":5.5},{"c":"CZ","t":"2021-05-04","v":4.0},{"c":"CZ","t":"2021-05-11","v":2.8},{"c":"CZ","t":"2021-05-18","v":1.8},{"c":"CZ","t":"2021-05-25","v":1.0},{"c":"CZ","t":"2021-06-01","v":0.6},{"c":"CZ","t":"2021-06-08","v":0.4},{"c":"CZ","t":"2021-06-15","v":0.3},{"c":"CZ","t":"2021-06-29","v":0.1},{"c":"CZ","t":"2021-07-13","v":0.05},{"c":"CZ","t":"2021-07-27","v":0.05},{"c":"CZ","t":"2021-08-10","v":0.05},{"c":"CZ","t":"2021-08-24","v":0.08},{"c":"CZ","t":"2021-09-07","v":0.15},{"c":"CZ","t":"2021-09-14","v":0.2},{"c":"CZ","t":"2021-09-21","v":0.3},{"c":"CZ","t":"2021-09-28","v":0.4},{"c":"CZ","t":"2021-10-05","v":0.5},{"c":"CZ","t":"2021-10-12","v":0.8},{"c":"CZ","t":"2021-10-19","v":1.0},{"c":"CZ","t":"2021-10-26","v":1.2},{"c":"CZ","t":"2021-10-29","v":1.3},
      {"c":"DE","t":"2020-10-20","v":0.3},{"c":"DE","t":"2020-10-27","v":0.5},{"c":"DE","t":"2020-11-03","v":1.0},{"c":"DE","t":"2020-11-10","v":1.7},{"c":"DE","t":"2020-11-17","v":2.5},{"c":"DE","t":"2020-11-24","v":3.3},{"c":"DE","t":"2020-12-01","v":4.2},{"c":"DE","t":"2020-12-08","v":5.0},{"c":"DE","t":"2020-12-15","v":6.0},{"c":"DE","t":"2020-12-22","v":7.0},{"c":"DE","t":"2020-12-29","v":8.0},{"c":"DE","t":"2021-01-05","v":9.5},{"c":"DE","t":"2021-01-12","v":10.0},{"c":"DE","t":"2021-01-19","v":10.0},{"c":"DE","t":"2021-01-26","v":9.0},{"c":"DE","t":"2021-02-02","v":7.5},{"c":"DE","t":"2021-02-09","v":6.0},{"c":"DE","t":"2021-02-16","v":5.0},{"c":"DE","t":"2021-02-23","v":4.5},{"c":"DE","t":"2021-03-02","v":3.5},{"c":"DE","t":"2021-03-09","v":3.0},{"c":"DE","t":"2021-03-16","v":2.5},{"c":"DE","t":"2021-03-23","v":2.3},{"c":"DE","t":"2021-03-30","v":2.2},{"c":"DE","t":"2021-04-06","v":2.4},{"c":"DE","t":"2021-04-13","v":2.6},{"c":"DE","t":"2021-04-20","v":2.9},{"c":"DE","t":"2021-04-27","v":3.0},{"c":"DE","t":"2021-05-04","v":2.8},{"c":"DE","t":"2021-05-11","v":2.5},{"c":"DE","t":"2021-05-18","v":2.2},{"c":"DE","t":"2021-05-25","v":1.7},{"c":"DE","t":"2021-06-01","v":1.3},{"c":"DE","t":"2021-06-08","v":1.0},{"c":"DE","t":"2021-06-15","v":0.8},{"c":"DE","t":"2021-06-29","v":0.5},{"c":"DE","t":"2021-07-13","v":0.3},{"c":"DE","t":"2021-07-27","v":0.2},{"c":"DE","t":"2021-08-10","v":0.2},{"c":"DE","t":"2021-08-24","v":0.3},{"c":"DE","t":"2021-08-31","v":0.4},{"c":"DE","t":"2021-09-07","v":0.5},{"c":"DE","t":"2021-09-14","v":0.6},{"c":"DE","t":"2021-09-21","v":0.7},{"c":"DE","t":"2021-09-28","v":0.7},{"c":"DE","t":"2021-10-05","v":0.7},{"c":"DE","t":"2021-10-12","v":0.7},{"c":"DE","t":"2021-10-19","v":0.8},{"c":"DE","t":"2021-10-26","v":1.0},{"c":"DE","t":"2021-10-29","v":1.1},
      {"c":"IT","t":"2020-10-20","v":1.5},{"c":"IT","t":"2020-10-27","v":3.0},{"c":"IT","t":"2020-11-03","v":5.0},{"c":"IT","t":"2020-11-10","v":7.5},{"c":"IT","t":"2020-11-17","v":9.5},{"c":"IT","t":"2020-11-24","v":11.5},{"c":"IT","t":"2020-12-01","v":12.3},{"c":"IT","t":"2020-12-08","v":11.5},{"c":"IT","t":"2020-12-15","v":10.8},{"c":"IT","t":"2020-12-22","v":9.7},{"c":"IT","t":"2020-12-29","v":8.5},{"c":"IT","t":"2021-01-05","v":8.2},{"c":"IT","t":"2021-01-12","v":8.3},{"c":"IT","t":"2021-01-19","v":8.0},{"c":"IT","t":"2021-01-26","v":7.5},{"c":"IT","t":"2021-02-02","v":7.5},{"c":"IT","t":"2021-02-09","v":7.0},{"c":"IT","t":"2021-02-16","v":5.8},{"c":"IT","t":"2021-02-23","v":5.3},{"c":"IT","t":"2021-03-02","v":5.1},{"c":"IT","t":"2021-03-09","v":5.3},{"c":"IT","t":"2021-03-16","v":6.3},{"c":"IT","t":"2021-03-23","v":7.1},{"c":"IT","t":"2021-03-30","v":7.4},{"c":"IT","t":"2021-04-06","v":7.3},{"c":"IT","t":"2021-04-13","v":7.1},{"c":"IT","t":"2021-04-20","v":6.3},{"c":"IT","t":"2021-04-27","v":5.4},{"c":"IT","t":"2021-05-04","v":4.5},{"c":"IT","t":"2021-05-11","v":3.6},{"c":"IT","t":"2021-05-18","v":2.8},{"c":"IT","t":"2021-05-25","v":2.1},{"c":"IT","t":"2021-06-01","v":1.5},{"c":"IT","t":"2021-06-08","v":1.1},{"c":"IT","t":"2021-06-15","v":0.8},{"c":"IT","t":"2021-06-22","v":0.6},{"c":"IT","t":"2021-06-29","v":0.4},{"c":"IT","t":"2021-07-13","v":0.3},{"c":"IT","t":"2021-07-27","v":0.25},{"c":"IT","t":"2021-08-10","v":0.35},{"c":"IT","t":"2021-08-17","v":0.5},{"c":"IT","t":"2021-08-24","v":0.6},{"c":"IT","t":"2021-08-31","v":0.8},{"c":"IT","t":"2021-09-07","v":0.9},{"c":"IT","t":"2021-09-14","v":0.9},{"c":"IT","t":"2021-09-21","v":0.8},{"c":"IT","t":"2021-09-28","v":0.8},{"c":"IT","t":"2021-10-05","v":0.7},{"c":"IT","t":"2021-10-12","v":0.6},{"c":"IT","t":"2021-10-19","v":0.6},{"c":"IT","t":"2021-10-26","v":0.65},{"c":"IT","t":"2021-10-29","v":0.7},
      {"c":"FI","t":"2020-10-20","v":0.1},{"c":"FI","t":"2020-10-27","v":0.2},{"c":"FI","t":"2020-11-03","v":0.3},{"c":"FI","t":"2020-11-10","v":0.4},{"c":"FI","t":"2020-11-17","v":0.6},{"c":"FI","t":"2020-11-24","v":0.8},{"c":"FI","t":"2020-12-01","v":1.0},{"c":"FI","t":"2020-12-08","v":1.2},{"c":"FI","t":"2020-12-15","v":1.3},{"c":"FI","t":"2020-12-22","v":1.2},{"c":"FI","t":"2020-12-29","v":1.1},{"c":"FI","t":"2021-01-05","v":1.0},{"c":"FI","t":"2021-01-12","v":0.9},{"c":"FI","t":"2021-01-19","v":0.9},{"c":"FI","t":"2021-01-26","v":0.8},{"c":"FI","t":"2021-02-02","v":0.8},{"c":"FI","t":"2021-02-09","v":0.9},{"c":"FI","t":"2021-02-16","v":0.8},{"c":"FI","t":"2021-02-23","v":0.7},{"c":"FI","t":"2021-03-02","v":0.8},{"c":"FI","t":"2021-03-09","v":0.8},{"c":"FI","t":"2021-03-16","v":0.9},{"c":"FI","t":"2021-03-23","v":0.9},{"c":"FI","t":"2021-03-30","v":0.8},{"c":"FI","t":"2021-04-06","v":0.7},{"c":"FI","t":"2021-04-13","v":0.6},{"c":"FI","t":"2021-04-20","v":0.5},{"c":"FI","t":"2021-04-27","v":0.4},{"c":"FI","t":"2021-05-04","v":0.3},{"c":"FI","t":"2021-05-18","v":0.2},{"c":"FI","t":"2021-06-01","v":0.1},{"c":"FI","t":"2021-06-15","v":0.05},{"c":"FI","t":"2021-06-29","v":0.03},{"c":"FI","t":"2021-07-13","v":0.03},{"c":"FI","t":"2021-07-27","v":0.05},{"c":"FI","t":"2021-08-10","v":0.1},{"c":"FI","t":"2021-08-24","v":0.2},{"c":"FI","t":"2021-09-07","v":0.3},{"c":"FI","t":"2021-09-14","v":0.3},{"c":"FI","t":"2021-09-21","v":0.35},{"c":"FI","t":"2021-09-28","v":0.4},{"c":"FI","t":"2021-10-05","v":0.45},{"c":"FI","t":"2021-10-12","v":0.5},{"c":"FI","t":"2021-10-19","v":0.5},{"c":"FI","t":"2021-10-26","v":0.55},{"c":"FI","t":"2021-10-29","v":0.6},
      {"c":"FR","t":"2020-10-20","v":1.5},{"c":"FR","t":"2020-10-27","v":2.8},{"c":"FR","t":"2020-11-03","v":5.5},{"c":"FR","t":"2020-11-10","v":7.8},{"c":"FR","t":"2020-11-17","v":8.5},{"c":"FR","t":"2020-11-24","v":7.5},{"c":"FR","t":"2020-12-01","v":6.2},{"c":"FR","t":"2020-12-08","v":5.5},{"c":"FR","t":"2020-12-15","v":5.3},{"c":"FR","t":"2020-12-22","v":5.5},{"c":"FR","t":"2020-12-29","v":5.2},{"c":"FR","t":"2021-01-05","v":5.2},{"c":"FR","t":"2021-01-12","v":5.8},{"c":"FR","t":"2021-01-19","v":5.8},{"c":"FR","t":"2021-01-26","v":5.8},{"c":"FR","t":"2021-02-02","v":6.5},{"c":"FR","t":"2021-02-09","v":6.3},{"c":"FR","t":"2021-02-16","v":5.6},{"c":"FR","t":"2021-02-23","v":5.3},{"c":"FR","t":"2021-03-02","v":4.8},{"c":"FR","t":"2021-03-09","v":4.6},{"c":"FR","t":"2021-03-16","v":4.7},{"c":"FR","t":"2021-03-23","v":4.9},{"c":"FR","t":"2021-03-30","v":5.4},{"c":"FR","t":"2021-04-06","v":5.8},{"c":"FR","t":"2021-04-13","v":6.0},{"c":"FR","t":"2021-04-20","v":5.3},{"c":"FR","t":"2021-04-27","v":4.7},{"c":"FR","t":"2021-05-04","v":4.0},{"c":"FR","t":"2021-05-11","v":3.4},{"c":"FR","t":"2021-05-18","v":2.8},{"c":"FR","t":"2021-05-25","v":2.2},{"c":"FR","t":"2021-06-01","v":1.6},{"c":"FR","t":"2021-06-08","v":1.1},{"c":"FR","t":"2021-06-15","v":0.8},{"c":"FR","t":"2021-06-22","v":0.6},{"c":"FR","t":"2021-06-29","v":0.5},{"c":"FR","t":"2021-07-13","v":0.35},{"c":"FR","t":"2021-07-27","v":0.5},{"c":"FR","t":"2021-08-03","v":0.8},{"c":"FR","t":"2021-08-10","v":1.2},{"c":"FR","t":"2021-08-17","v":1.6},{"c":"FR","t":"2021-08-24","v":1.8},{"c":"FR","t":"2021-08-31","v":1.7},{"c":"FR","t":"2021-09-07","v":1.5},{"c":"FR","t":"2021-09-14","v":1.2},{"c":"FR","t":"2021-09-21","v":1.0},{"c":"FR","t":"2021-09-28","v":0.8},{"c":"FR","t":"2021-10-05","v":0.6},{"c":"FR","t":"2021-10-12","v":0.5},{"c":"FR","t":"2021-10-19","v":0.5},{"c":"FR","t":"2021-10-26","v":0.5},{"c":"FR","t":"2021-10-29","v":0.55},
      {"c":"SE","t":"2020-10-20","v":0.3},{"c":"SE","t":"2020-10-27","v":0.4},{"c":"SE","t":"2020-11-03","v":0.8},{"c":"SE","t":"2020-11-10","v":1.5},{"c":"SE","t":"2020-11-17","v":2.5},{"c":"SE","t":"2020-11-24","v":3.5},{"c":"SE","t":"2020-12-01","v":4.5},{"c":"SE","t":"2020-12-08","v":5.5},{"c":"SE","t":"2020-12-15","v":6.5},{"c":"SE","t":"2020-12-22","v":7.5},{"c":"SE","t":"2020-12-29","v":8.0},{"c":"SE","t":"2021-01-05","v":9.0},{"c":"SE","t":"2021-01-12","v":9.5},{"c":"SE","t":"2021-01-19","v":9.0},{"c":"SE","t":"2021-01-26","v":8.0},{"c":"SE","t":"2021-02-02","v":6.5},{"c":"SE","t":"2021-02-09","v":5.0},{"c":"SE","t":"2021-02-16","v":4.0},{"c":"SE","t":"2021-02-23","v":3.0},{"c":"SE","t":"2021-03-02","v":2.3},{"c":"SE","t":"2021-03-09","v":2.0},{"c":"SE","t":"2021-03-16","v":1.8},{"c":"SE","t":"2021-03-23","v":1.8},{"c":"SE","t":"2021-03-30","v":1.8},{"c":"SE","t":"2021-04-06","v":1.9},{"c":"SE","t":"2021-04-13","v":2.0},{"c":"SE","t":"2021-04-20","v":2.0},{"c":"SE","t":"2021-04-27","v":2.0},{"c":"SE","t":"2021-05-04","v":1.8},{"c":"SE","t":"2021-05-11","v":1.5},{"c":"SE","t":"2021-05-18","v":1.2},{"c":"SE","t":"2021-05-25","v":0.9},{"c":"SE","t":"2021-06-01","v":0.7},{"c":"SE","t":"2021-06-08","v":0.5},{"c":"SE","t":"2021-06-15","v":0.3},{"c":"SE","t":"2021-06-29","v":0.15},{"c":"SE","t":"2021-07-13","v":0.1},{"c":"SE","t":"2021-07-27","v":0.1},{"c":"SE","t":"2021-08-10","v":0.1},{"c":"SE","t":"2021-08-24","v":0.15},{"c":"SE","t":"2021-09-07","v":0.3},{"c":"SE","t":"2021-09-14","v":0.4},{"c":"SE","t":"2021-09-21","v":0.4},{"c":"SE","t":"2021-09-28","v":0.35},{"c":"SE","t":"2021-10-05","v":0.3},{"c":"SE","t":"2021-10-12","v":0.3},{"c":"SE","t":"2021-10-19","v":0.35},{"c":"SE","t":"2021-10-26","v":0.4},{"c":"SE","t":"2021-10-29","v":0.4},
      {"c":"PT","t":"2020-10-20","v":1.5},{"c":"PT","t":"2020-10-27","v":2.0},{"c":"PT","t":"2020-11-03","v":3.5},{"c":"PT","t":"2020-11-10","v":5.5},{"c":"PT","t":"2020-11-17","v":7.0},{"c":"PT","t":"2020-11-24","v":8.0},{"c":"PT","t":"2020-12-01","v":7.8},{"c":"PT","t":"2020-12-08","v":7.5},{"c":"PT","t":"2020-12-15","v":8.0},{"c":"PT","t":"2020-12-22","v":7.5},{"c":"PT","t":"2020-12-29","v":7.5},{"c":"PT","t":"2021-01-05","v":9.0},{"c":"PT","t":"2021-01-12","v":10.0},{"c":"PT","t":"2021-01-16","v":13.0},{"c":"PT","t":"2021-01-21","v":17.5},{"c":"PT","t":"2021-01-26","v":24.0},{"c":"PT","t":"2021-01-29","v":26.5},{"c":"PT","t":"2021-02-01","v":28.3},{"c":"PT","t":"2021-02-03","v":27.4},{"c":"PT","t":"2021-02-05","v":25.5},{"c":"PT","t":"2021-02-09","v":22.0},{"c":"PT","t":"2021-02-13","v":18.5},{"c":"PT","t":"2021-02-18","v":11.5},{"c":"PT","t":"2021-02-23","v":6.0},{"c":"PT","t":"2021-03-02","v":3.0},{"c":"PT","t":"2021-03-09","v":1.8},{"c":"PT","t":"2021-03-16","v":1.2},{"c":"PT","t":"2021-03-23","v":0.8},{"c":"PT","t":"2021-03-30","v":0.6},{"c":"PT","t":"2021-04-06","v":0.5},{"c":"PT","t":"2021-04-20","v":0.3},{"c":"PT","t":"2021-05-04","v":0.2},{"c":"PT","t":"2021-05-18","v":0.15},{"c":"PT","t":"2021-06-01","v":0.15},{"c":"PT","t":"2021-06-15","v":0.2},{"c":"PT","t":"2021-06-29","v":0.3},{"c":"PT","t":"2021-07-06","v":0.6},{"c":"PT","t":"2021-07-13","v":0.8},{"c":"PT","t":"2021-07-20","v":1.0},{"c":"PT","t":"2021-07-27","v":1.3},{"c":"PT","t":"2021-08-10","v":1.3},{"c":"PT","t":"2021-08-24","v":1.2},{"c":"PT","t":"2021-09-07","v":0.9},{"c":"PT","t":"2021-09-21","v":0.6},{"c":"PT","t":"2021-10-05","v":0.4},{"c":"PT","t":"2021-10-19","v":0.35},{"c":"PT","t":"2021-10-29","v":0.3},
      {"c":"DK","t":"2020-10-20","v":0.3},{"c":"DK","t":"2020-10-27","v":0.3},{"c":"DK","t":"2020-11-03","v":0.4},{"c":"DK","t":"2020-11-10","v":0.6},{"c":"DK","t":"2020-11-17","v":0.8},{"c":"DK","t":"2020-11-24","v":1.0},{"c":"DK","t":"2020-12-01","v":1.2},{"c":"DK","t":"2020-12-08","v":1.4},{"c":"DK","t":"2020-12-15","v":2.0},{"c":"DK","t":"2020-12-22","v":2.6},{"c":"DK","t":"2020-12-29","v":3.3},{"c":"DK","t":"2021-01-05","v":3.8},{"c":"DK","t":"2021-01-12","v":3.6},{"c":"DK","t":"2021-01-19","v":2.8},{"c":"DK","t":"2021-01-26","v":2.2},{"c":"DK","t":"2021-02-02","v":1.6},{"c":"DK","t":"2021-02-09","v":1.1},{"c":"DK","t":"2021-02-16","v":0.8},{"c":"DK","t":"2021-02-23","v":0.6},{"c":"DK","t":"2021-03-02","v":0.5},{"c":"DK","t":"2021-03-09","v":0.4},{"c":"DK","t":"2021-03-16","v":0.35},{"c":"DK","t":"2021-03-23","v":0.3},{"c":"DK","t":"2021-04-06","v":0.3},{"c":"DK","t":"2021-04-20","v":0.25},{"c":"DK","t":"2021-05-04","v":0.2},{"c":"DK","t":"2021-05-18","v":0.15},{"c":"DK","t":"2021-06-01","v":0.1},{"c":"DK","t":"2021-06-15","v":0.05},{"c":"DK","t":"2021-06-29","v":0.03},{"c":"DK","t":"2021-07-13","v":0.03},{"c":"DK","t":"2021-07-27","v":0.05},{"c":"DK","t":"2021-08-10","v":0.1},{"c":"DK","t":"2021-08-24","v":0.15},{"c":"DK","t":"2021-09-07","v":0.2},{"c":"DK","t":"2021-09-21","v":0.2},{"c":"DK","t":"2021-10-05","v":0.2},{"c":"DK","t":"2021-10-19","v":0.2},{"c":"DK","t":"2021-10-29","v":0.2}
    ]
  },
  "layer": [
    {
      "data": {"name": "series"},
      "mark": {"type": "line", "strokeWidth": 1.5, "strokeJoin": "round"},
      "encoding": {
        "x": {
          "field": "t", "type": "temporal",
          "scale": {"type": "utc", "domain": [{"year": 2020, "month": 10, "date": 20, "utc": true}, {"year": 2021, "month": 10, "date": 29, "utc": true}]},
          "axis": {
            "title": null, "grid": false, "domain": false,
            "values": [
              {"year": 2020, "month": 11, "date": 16, "utc": true},
              {"year": 2021, "month": 2, "date": 24, "utc": true},
              {"year": 2021, "month": 6, "date": 4, "utc": true},
              {"year": 2021, "month": 10, "date": 28, "utc": true}
            ],
            "format": "%b %-d, %Y",
            "offset": 17, "tickSize": 6, "tickColor": "#cccccc", "tickWidth": 1,
            "labelPadding": 4, "labelFontSize": 15, "labelColor": "#666666", "labelFont": "Lato",
            "labelAlign": {"condition": {"test": "datum.index === 1", "value": "right"}, "value": "center"},
            "labelBound": false, "labelFlush": false, "labelOverlap": false
          }
        },
        "y": {
          "field": "v", "type": "quantitative",
          "scale": {"domain": [0, 29], "nice": false},
          "axis": {
            "title": null, "labels": false, "ticks": false, "domain": false,
            "grid": true, "values": [7, 14, 21, 28],
            "gridColor": "#dddddd", "gridDash": [3, 3], "gridWidth": 1
          }
        },
        "color": {
          "field": "c", "type": "nominal", "legend": null,
          "scale": {
            "domain": ["RO","BG","LV","LT","HR","EE","SI","GR","HU","SK","EU","GB","PL","BE","AT","CZ","DE","IT","FI","FR","SE","PT","DK"],
            "range": ["#1a8c55","#4c6a9c","#454545","#c4a56e","#c0652e","#c9486a","#3f8f7f","#b9659a","#c2328f","#a9763a","#3a4a6b","#cc3f86","#8d5c8b","#c98b43","#2f8f84","#2f3d2f","#3a9aa6","#4f4f4f","#b5652d","#a5522e","#cc3545","#5b9560","#a97ab5"]
          }
        }
      }
    },
    {
      "mark": {"type": "rule", "color": "#c4c4c4", "strokeWidth": 1},
      "encoding": {"y": {"datum": 0, "type": "quantitative"}}
    },
    {
      "data": {"name": "series"},
      "transform": [
        {"window": [{"op": "row_number", "as": "k"}], "groupby": ["c"], "sort": [{"field": "t", "order": "descending"}]},
        {"filter": "datum.k === 1"},
        {"lookup": "c", "from": {"data": {"name": "names"}, "key": "c", "fields": ["name", "rank"]}},
        {"calculate": "23.52 - 1.1016 * datum.rank", "as": "ly"},
        {"calculate": "time(datum.t) + (4 + 0.7 * datum.rank) * 864e5", "as": "elbow"}
      ],
      "layer": [
        {
          "mark": {"type": "rule", "color": "#cfcfcf", "strokeWidth": 1},
          "encoding": {
            "x": {"field": "t", "type": "temporal"},
            "x2": {"field": "elbow"},
            "y": {"field": "v", "type": "quantitative"}
          }
        },
        {
          "mark": {"type": "rule", "color": "#cfcfcf", "strokeWidth": 1},
          "encoding": {
            "x": {"field": "elbow", "type": "temporal"},
            "y": {"field": "v", "type": "quantitative"},
            "y2": {"field": "ly"}
          }
        },
        {
          "mark": {"type": "rule", "color": "#cfcfcf", "strokeWidth": 1, "x2Offset": 33},
          "encoding": {
            "x": {"field": "elbow", "type": "temporal"},
            "x2": {"field": "t"},
            "y": {"field": "ly", "type": "quantitative"}
          }
        },
        {
          "mark": {"type": "text", "align": "left", "baseline": "middle", "dx": 38, "fontSize": 12.5, "font": "Lato"},
          "encoding": {
            "x": {"field": "t", "type": "temporal"},
            "y": {"field": "ly", "type": "quantitative"},
            "text": {"field": "name"},
            "color": {"field": "c", "type": "nominal", "legend": null}
          }
        }
      ]
    }
  ]
}
